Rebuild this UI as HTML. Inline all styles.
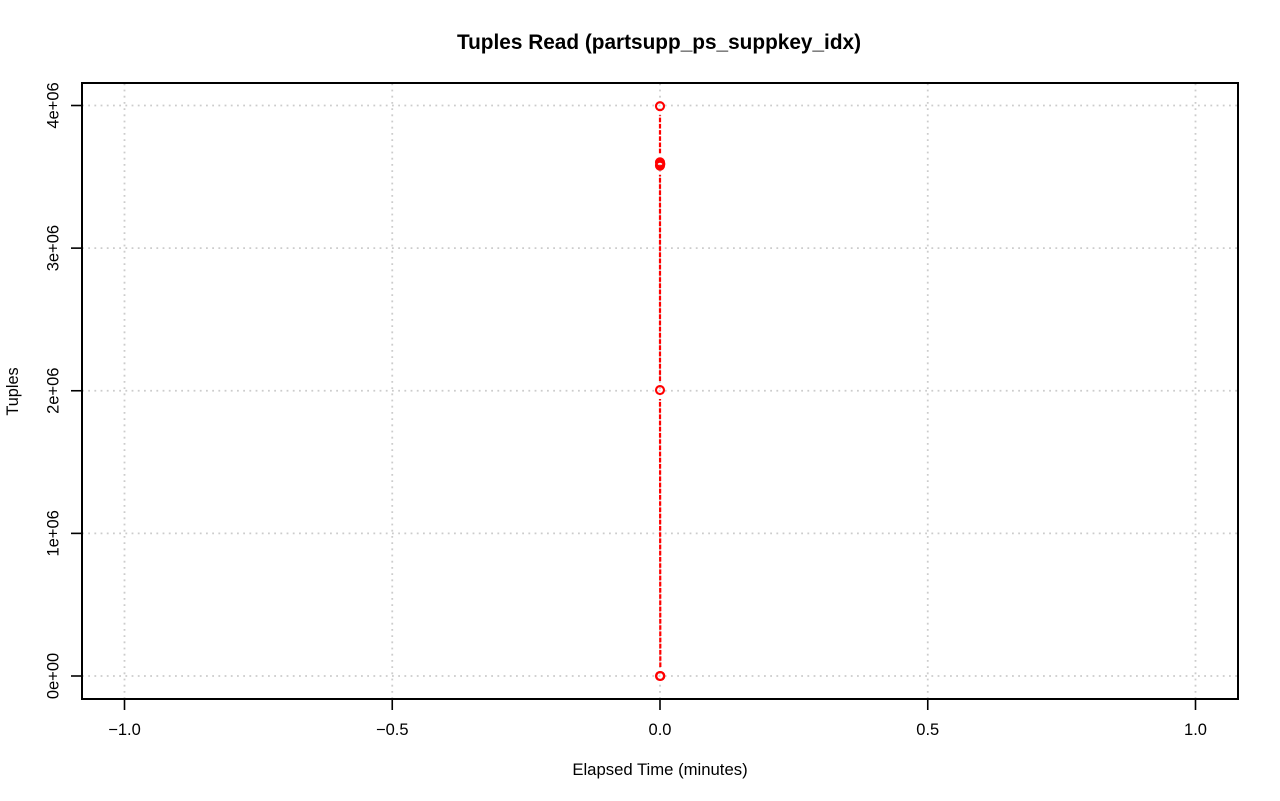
<!DOCTYPE html>
<html lang="en">
<head>
<meta charset="utf-8">
<title>Tuples Read (partsupp_ps_suppkey_idx)</title>
<style>
html,body{margin:0;padding:0;background:#fff;}
svg{display:block;font-family:"Liberation Sans",Arial,sans-serif;}
</style>
</head>
<body>
<svg id="chart" xmlns="http://www.w3.org/2000/svg" width="1280" height="801" viewBox="0 0 1280 801">
<rect x="0" y="0" width="1280" height="801" fill="#ffffff"/>
<text x="659" y="49" text-anchor="middle" font-size="20.8" font-weight="bold" fill="#000">Tuples Read (partsupp_ps_suppkey_idx)</text>
<text x="660" y="775" text-anchor="middle" font-size="16.7" fill="#000">Elapsed Time (minutes)</text>
<text x="18" y="391.5" text-anchor="middle" font-size="16.3" fill="#000" transform="rotate(-90 18 391.5)">Tuples</text>
<g id="grid"></g>
<g id="series"></g>
<rect x="82" y="83" width="1156" height="616" fill="none" stroke="#000" stroke-width="2"/>
<g id="axes"></g>
</svg>
<script>
const xTicks = [-1, -0.5, 0, 0.5, 1];
const xTickLabels = ["\u22121.0", "\u22120.5", "0.0", "0.5", "1.0"];
const yTicks = [0, 1000000, 2000000, 3000000, 4000000];
const yTickLabels = ["0e+00", "1e+06", "2e+06", "3e+06", "4e+06"];
const elapsedMinutes = [0, 0.0006, 0, 0, 0.0006, 0, 0];
const tuplesRead = [0, 0, 2005000, 3578000, 3590000, 3602000, 3995000];

const plotLeft = 82, plotRight = 1238, plotTop = 83, plotBottom = 699;
const svgNS = "http://www.w3.org/2000/svg";
function xScale(v) { return 660 + v * 535.5; }
function yScale(v) { return 676 - v * (570.5 / 4000000); }
function make(tag, attrs, parent) {
  const el = document.createElementNS(svgNS, tag);
  for (const k in attrs) el.setAttribute(k, attrs[k]);
  parent.appendChild(el);
  return el;
}
const gridG = document.getElementById("grid");
const seriesG = document.getElementById("series");
const axesG = document.getElementById("axes");
const gridStyle = { stroke: "#cccccc", "stroke-width": 1.8, "stroke-dasharray": "1.8 4.4", fill: "none" };

xTicks.forEach(function (t, i) {
  const x = xScale(t);
  const g = make("line", Object.assign({ x1: x, x2: x, y1: plotBottom, y2: plotTop }, gridStyle), gridG);
  
  
  const tick = make("line", { x1: x, x2: x, y1: plotBottom, y2: plotBottom + 11, stroke: "#000", "stroke-width": 1.6 }, axesG);
  
  
  const label = make("text", { x: x, y: 735, "text-anchor": "middle", "font-size": 16.5, fill: "#000" }, axesG);
  
  
  label.textContent = xTickLabels[i];
});

yTicks.forEach(function (t, i) {
  const y = yScale(t);
  const g = make("line", Object.assign({ x1: plotLeft, x2: plotRight, y1: y, y2: y }, gridStyle), gridG);
  
  
  const tick = make("line", { x1: plotLeft, x2: plotLeft - 11, y1: y, y2: y, stroke: "#000", "stroke-width": 1.6 }, axesG);
  
  
  const label = make("text", { x: 58.5, y: y, "text-anchor": "middle", "font-size": 16.5, fill: "#000", transform: "rotate(-90 58.5 " + y + ")" }, axesG);
  
  
  label.textContent = yTickLabels[i];
});

const gap = 9;
for (let i = 0; i < tuplesRead.length - 1; i++) {
  const y0 = yScale(tuplesRead[i]), y1 = yScale(tuplesRead[i + 1]);
  const len = Math.abs(y1 - y0);
  if (len <= 2 * gap) continue;
  const x0 = xScale(elapsedMinutes[i]), x1 = xScale(elapsedMinutes[i + 1]);
  const seg = make("line", { x1: x0, x2: x1, y1: y0 - gap, y2: y1 + gap, stroke: "#ff0000", "stroke-width": 2.2, "stroke-dasharray": "4.6 1.6" }, seriesG);
  
  
}
tuplesRead.forEach(function (v, i) {
  const pt = make("circle", { cx: xScale(elapsedMinutes[i]), cy: yScale(v), r: 4, fill: "none", stroke: "#ff0000", "stroke-width": 2.1 }, seriesG);
  
  
});
</script>
</body>
</html>
